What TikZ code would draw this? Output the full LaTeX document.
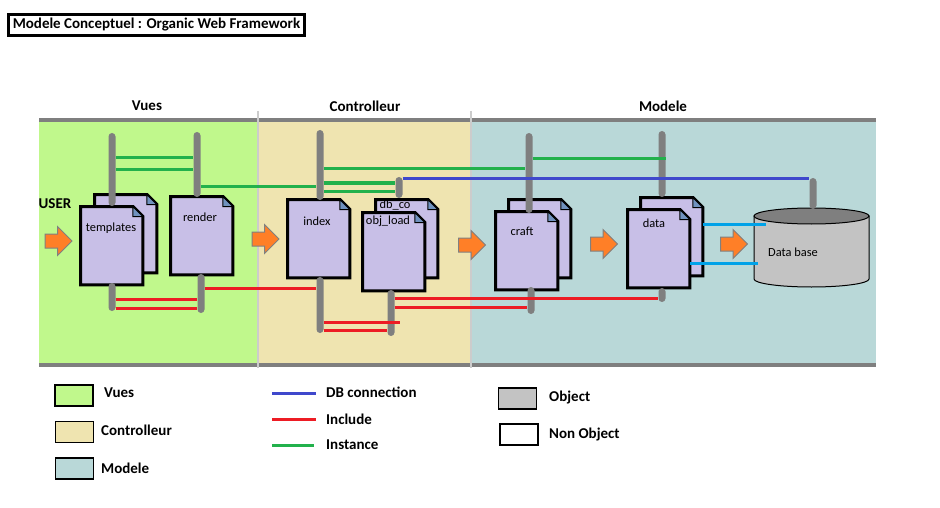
\documentclass[tikz,border=0pt]{standalone}
\usepackage{fontspec}
\setmainfont{Carlito}
\usetikzlibrary{shapes.arrows}

\definecolor{vuesgreen}{RGB}{192,248,140}
\definecolor{ctrltan}{RGB}{239,228,176}
\definecolor{modteal}{RGB}{185,216,216}
\definecolor{lavender}{RGB}{200,191,231}
\definecolor{foldblue}{RGB}{112,146,190}
\definecolor{bargray}{RGB}{127,127,127}
\definecolor{objgray}{RGB}{195,195,195}
\definecolor{arrorange}{RGB}{255,127,39}
\definecolor{incred}{RGB}{237,28,36}
\definecolor{instgreen}{RGB}{34,177,76}
\definecolor{dbblue}{RGB}{63,72,204}
\definecolor{linkcyan}{RGB}{0,162,232}

\tikzset{
  bar/.style={rectangle, rounded corners=3.5pt, fill=bargray, minimum width=7pt, inner sep=0pt},
  page/.style={rectangle, minimum width=62pt, minimum height=78pt, inner sep=0pt, anchor=north west},
  pageline/.style={draw=black, line width=3pt, fill=lavender, line join=miter},
  fold/.style={draw=black, line width=1pt, fill=foldblue},
  doclabel/.style={inner sep=0pt, font=\fontsize{12.4}{14}\selectfont},
  bold/.style={inner sep=0pt, font=\fontsize{15}{17}\selectfont\bfseries},
  legtext/.style={bold, anchor=west},
  legbox/.style={draw=black, line width=1.5pt, inner sep=0pt, minimum width=38pt, minimum height=21pt},
  flow/.style={single arrow, draw=gray, line width=1pt, fill=arrorange, minimum height=27pt,
    inner xsep=0pt, inner ysep=6.5pt, single arrow head extend=7.5pt},
  include/.style={draw=incred, line width=3pt},
  instance/.style={draw=instgreen, line width=3pt},
  dbconn/.style={draw=dbblue, line width=3pt},
  link/.style={draw=linkcyan, line width=3pt},
}

\newcommand{\docpage}[3]{%
  \node[page] (#1) at (#2,#3) {};
  \filldraw[pageline] (#1.north west) -- ([xshift=-10pt]#1.north east) -- ([yshift=-10pt]#1.north east)
    -- (#1.south east) -- (#1.south west) -- cycle;
  \filldraw[fold] ([xshift=-10pt]#1.north east) -- ([xshift=-10pt,yshift=-10pt]#1.north east)
    -- ([yshift=-10pt]#1.north east) -- cycle;
}

\begin{document}
\begin{tikzpicture}[x=1pt, y=-1pt]
  \useasboundingbox (0,0) rectangle (940,508);

  \node[draw, line width=3pt, minimum width=296pt, minimum height=21pt, inner sep=0pt,
    font=\fontsize{15}{17}\selectfont\bfseries] (title) at (156.5,25) {Modele Conceptuel : Organic Web Framework};

  \fill[vuesgreen] (39,121) rectangle (258,364);
  \fill[ctrltan] (258,121) rectangle (471,364);
  \fill[modteal] (471,121) rectangle (876,364);
  \draw[bargray, line width=3.5pt] (39,120) -- (876,120);
  \draw[bargray, line width=3.5pt] (39,365) -- (876,365);
  \draw[black!20, line width=1.5pt] (258,111) -- (258,368);
  \draw[black!20, line width=1.5pt] (471,111) -- (471,368);

  \node[bold] (vues) at (147,106) {Vues};
  \node[bold] (ctrl) at (365,106) {Controlleur};
  \node[bold] (mod) at (663,106) {Modele};
  \node[bold] (user) at (55,204) {USER};

  \docpage{tplBack}{94.5}{194.5}
  \docpage{tplFront}{80.5}{206.5}
  \docpage{render}{170.5}{196.5}
  \docpage{index}{287.5}{199.5}
  \docpage{dbcBack}{375.5}{199.5}
  \docpage{objFront}{362.5}{212.5}
  \docpage{crfBack}{508.5}{199.5}
  \docpage{crfFront}{495.5}{211.5}
  \docpage{datBack}{640.5}{197.5}
  \docpage{datFront}{627.5}{209.5}

  \node[doclabel] (tplLbl) at (111,228) {templates};
  \node[doclabel] (renLbl) at (200,217) {render};
  \node[doclabel] (idxLbl) at (317,221) {index};
  \node[doclabel] (dbcLbl) at (395,205) {db\_co};
  \node[doclabel] (objLbl) at (388,221) {obj\_load};
  \node[doclabel] (crfLbl) at (522,231) {craft};
  \node[doclabel] (datLbl) at (654,223) {data};

  \filldraw[draw=black, line width=1pt, fill=objgray] (754,216) -- (754,279)
    arc[start angle=180, end angle=360, x radius=57.5pt, y radius=8pt] -- (869,216) -- cycle;
  \filldraw[draw=black, line width=1pt, fill=bargray] (811.5,216) ellipse[x radius=57.5pt, y radius=8pt];
  \node[doclabel] (dbLbl) at (793,252) {Data base};
  \coordinate (dbA) at (766,224);
  \coordinate (dbB) at (758,263);

  \node[flow] (in) at (55,241) {};
  \node[flow] (v2c) at (262,239) {};
  \node[flow] (c2m) at (468.5,245) {};
  \node[flow] (c2d) at (600.5,244) {};
  \node[flow] (d2b) at (730.5,244) {};

  \node[bar, minimum height=73pt] (tplTop) at (112,169.5) {};
  \node[bar, minimum height=28pt] (tplBot) at (112,297) {};
  \node[bar, minimum height=65pt] (renTop) at (197,164.5) {};
  \node[bar, minimum height=39pt] (renBot) at (201,293.5) {};
  \node[bar, minimum height=70pt] (idxTop) at (320,165) {};
  \node[bar, minimum height=56pt] (idxBot) at (320,305) {};
  \node[bar, minimum height=21pt] (dbcTop) at (399,187.5) {};
  \node[bar, minimum height=46pt] (objBot) at (391,313) {};
  \node[bar, minimum height=80pt] (crfTop) at (529,173) {};
  \node[bar, minimum height=27pt] (crfBot) at (531,300.5) {};
  \node[bar, minimum height=66pt] (datTop) at (662,164) {};
  \node[bar, minimum height=14pt] (datBot) at (662,295) {};
  \node[bar, minimum height=31pt] (dbTop) at (813,193.5) {};

  \draw[instance] (tplTop.east |- 0,158) -- (renTop.west |- 0,158);
  \draw[instance] (tplTop.east |- 0,170) -- (renTop.west |- 0,170);
  \draw[instance] (renTop.east |- 0,186) -- (idxTop.west |- 0,186);
  \draw[instance] (idxTop.east |- 0,169) -- (crfTop.west |- 0,169);
  \draw[instance] (idxTop.east |- 0,183) -- (dbcTop.west |- 0,183);
  \draw[instance] (idxTop.east |- 0,191) -- (dbcTop.west |- 0,191);
  \draw[instance] (crfTop.east |- 0,159) -- (datTop.east |- 0,159);
  \draw[dbconn] (dbcTop.east |- 0,179) -- (dbTop.west |- 0,179);
  \draw[include] (renBot.east |- 0,288) -- (idxBot.west |- 0,288);
  \draw[include] (tplBot.east |- 0,299) -- (renBot.west |- 0,299);
  \draw[include] (tplBot.east |- 0,308) -- (renBot.west |- 0,308);
  \draw[include] (idxBot.east |- 0,322) -- ([xshift=5pt]objBot.east |- 0,322);
  \draw[include] (idxBot.east |- 0,330) -- (objBot.west |- 0,330);
  \draw[include] (objBot.east |- 0,298) -- (datBot.west |- 0,298);
  \draw[include] (objBot.east |- 0,307) -- (crfBot.west |- 0,307);
  \draw[link] (datBack.east |- 0,224) -- (dbA);
  \draw[link] (datFront.east |- 0,263) -- (dbB);

  \node[legbox, fill=vuesgreen] (kVues) at (74,395.5) {};
  \node[legbox, fill=ctrltan] (kCtrl) at (74.5,432) {};
  \node[legbox, fill=modteal] (kMod) at (74.5,468.5) {};
  \node[legbox, fill=objgray] (kObj) at (517.5,398.5) {};
  \node[legbox, fill=white] (kNon) at (519,434.5) {};
  \node[legtext] at (104,393) {Vues};
  \node[legtext] at (101,430) {Controlleur};
  \node[legtext] at (101,468) {Modele};
  \node[legtext] at (549,398) {Object};
  \node[legtext] at (549,435) {Non Object};
  \coordinate (kB) at (272,393);
  \coordinate (kR) at (272,419);
  \coordinate (kG) at (272,445);
  \draw[dbconn] (kB) -- ++(44,0);
  \draw[include] (kR) -- ++(44,0);
  \draw[instance] (kG) -- ++(42,0);
  \node[legtext] at (326,392) {DB connection};
  \node[legtext] at (326,419) {Include};
  \node[legtext] at (326,445) {Instance};
\end{tikzpicture}
\end{document}
